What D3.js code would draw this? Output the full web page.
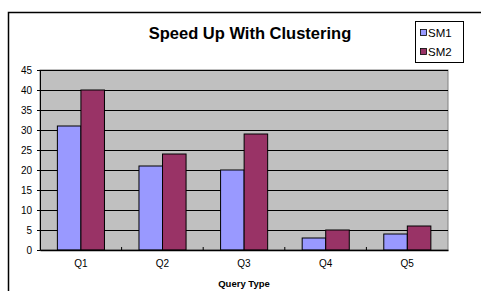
<!DOCTYPE html>
<html><head><meta charset="utf-8">
<script src="https://cdn.jsdelivr.net/npm/d3@7"></script>
<style>body{margin:0;background:#fff}svg{display:block;font-family:"Liberation Sans",Arial,sans-serif}</style>
</head><body><svg id="c" width="481" height="291"></svg>
<script>
const categories = ["Q1","Q2","Q3","Q4","Q5"];
const seriesNames = ["SM1","SM2"];
const sm1 = [31,21,20,3,4];
const sm2 = [40,24,29,5,6];
const yTicks = [0,5,10,15,20,25,30,35,40,45];
const colors = ["#9999FF","#993366"];

const svg = d3.select("#c");
// outer frame
svg.append("path").attr("d","M8.5,300 L8.5,12.5 L490,12.5").attr("fill","none").attr("stroke","#000").attr("stroke-width",1.5);

const L=40,R=448,T=70,B=250;
const y = d3.scaleLinear().domain([0,45]).range([B,T]);
const x0 = d3.scaleBand().domain(categories).range([L,R]).padding(0);
const x1 = d3.scaleBand().domain(seriesNames).range([x0.bandwidth()*0.213, x0.bandwidth()*0.79]).padding(0);

svg.append("rect").attr("x",L).attr("y",T).attr("width",R-L).attr("height",B-T).attr("fill","#C0C0C0").attr("stroke","#808080").attr("stroke-width",1);

// gridlines
svg.append("g").selectAll("line").data(yTicks.filter(d=>d>0)).join("line")
  .attr("x1",L).attr("x2",R).attr("y1",d=>Math.round(y(d))+0.5).attr("y2",d=>Math.round(y(d))+0.5)
  .attr("stroke","#000").attr("stroke-width",1);

// y axis
const ya = svg.append("g").attr("transform",`translate(${L},0)`)
  .call(d3.axisLeft(y).tickValues(yTicks).tickSize(3).tickPadding(5));
ya.select(".domain").attr("stroke","#000");
ya.selectAll("text").attr("font-size","10px").attr("fill","#000").style("font-family","Liberation Sans, Arial");

// bars
const data = categories.map((c,i)=>({c, vals:[sm1[i],sm2[i]]}));
const g = svg.append("g");
data.forEach(d=>{
  d.vals.forEach((v,j)=>{
    g.append("rect")
      .attr("x",x0(d.c)+x1(seriesNames[j]))
      .attr("y",y(v))
      .attr("width",x1.bandwidth())
      .attr("height",B-y(v))
      .attr("fill",colors[j]).attr("stroke","#000").attr("stroke-width",1);
  });
});

// x axis
const xa = svg.append("g").attr("transform",`translate(0,${B})`)
  .call(d3.axisBottom(x0).tickSize(0).tickPadding(10));
xa.select(".domain").attr("stroke","#000").attr("stroke-width",1.5);
xa.selectAll("text").attr("font-size","10px").attr("fill","#000").style("font-family","Liberation Sans, Arial");
// boundary ticks (inward)
svg.append("g").selectAll("line").data(categories.slice(1)).join("line")
  .attr("x1",d=>x0(d)).attr("x2",d=>x0(d)).attr("y1",B).attr("y2",B-3).attr("stroke","#000");

// axis title
svg.append("text").attr("x",244).attr("y",287).attr("text-anchor","middle")
  .attr("font-size","9.5px").attr("font-weight","bold").text("Query Type");

// title
svg.append("text").attr("x",250).attr("y",39).attr("text-anchor","middle")
  .attr("font-size","16.5px").attr("font-weight","bold").text("Speed Up With Clustering");

// legend
const lg = svg.append("g");
lg.append("rect").attr("x",415.5).attr("y",21.5).attr("width",48).attr("height",41).attr("fill","#fff").attr("stroke","#000");
seriesNames.forEach((s,i)=>{
  const cy = 32.5 + i*19;
  lg.append("rect").attr("x",420.5).attr("y",cy-3).attr("width",6).attr("height",6).attr("fill",colors[i]).attr("stroke","#000").attr("stroke-width",0.8);
  lg.append("text").attr("x",428).attr("y",cy+4).attr("font-size","11.5px").text(s);
});
</script></body></html>
